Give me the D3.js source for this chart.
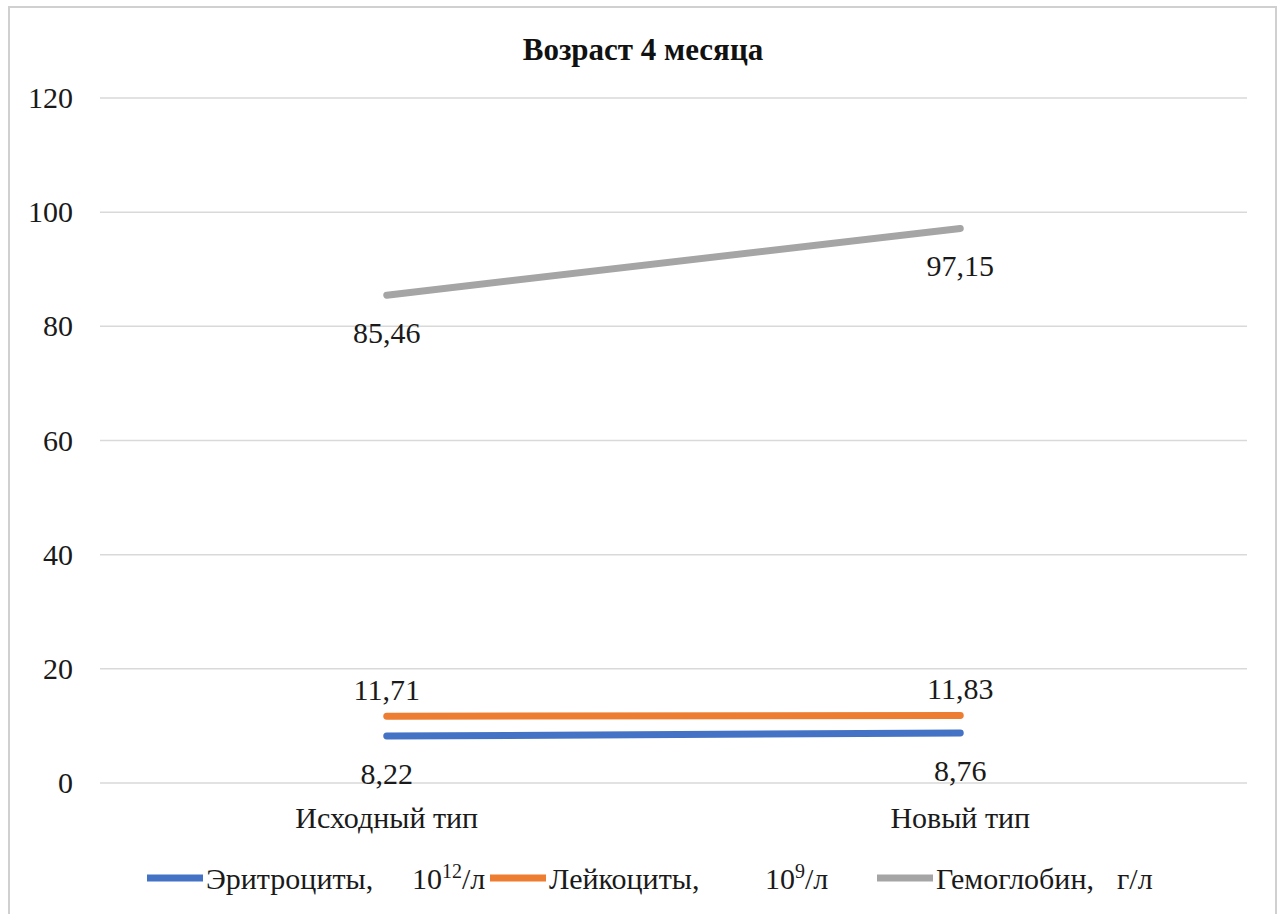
<!DOCTYPE html>
<html>
<head>
<meta charset="utf-8">
<script src="https://cdn.jsdelivr.net/npm/d3@7"></script>
<style>
  body { margin: 0; background: #fff; }
  .serif { font-family: 'Liberation Serif', 'Times New Roman', Tinos, serif; }
</style>
</head>
<body>
<svg id="chart" width="1283" height="914"></svg>
<script>
// chart data
const categories = ["Исходный тип", "Новый тип"];
const seriesNames = ["Эритроциты,", "Лейкоциты,", "Гемоглобин,"];
const unitBase = ["10", "10", ""];
const unitSup = ["12", "9", ""];
const unitTail = ["/л", "/л", "г/л"];
const erythrocytes = [8.22, 8.76];
const leukocytes = [11.71, 11.83];
const hemoglobin = [85.46, 97.15];
const yTicks = [0, 20, 40, 60, 80, 100, 120];

const colors = ["#4472C4", "#ED7D31", "#A5A5A5"];
const labelAbove = [false, true, false];
const series = [erythrocytes, leukocytes, hemoglobin];
const TXT = "#1a1a1a";

const svg = d3.select("#chart");

// outer frame
svg.append("rect")
  .attr("x", 9).attr("y", 7)
  .attr("width", 1267).attr("height", 920)
  .attr("fill", "#fff")
  .attr("stroke", "#d0d0d0")
  .attr("stroke-width", 2);

const margin = { top: 98, left: 100, right: 36, bottom: 131 };
const width = 1283 - margin.left - margin.right;
const height = 914 - margin.top - margin.bottom;

const g = svg.append("g").attr("transform", `translate(${ margin.left }, ${ margin.top })`);

const x = d3.scaleBand().domain(categories).range([0, width]);
const y = d3.scaleLinear().domain([0, 120]).range([height, 0]);
const cx = i => x(categories[i]) + x.bandwidth() / 2;

// grid
g.selectAll(".grid")
  .data(yTicks)
  .enter()
  .append("line")
  .attr("x1", 0).attr("x2", width)
  .attr("y1", d => y(d)).attr("y2", d => y(d))
  .attr("stroke", "#d9d9d9")
  .attr("stroke-width", 1.5);

// y axis labels
const yAxisG = g.append("g")
  .call(d3.axisLeft(y).tickValues(yTicks).tickSize(0).tickPadding(27));
yAxisG.attr("font-family", null).attr("font-size", null);
yAxisG.select(".domain").remove();
yAxisG.selectAll("text")
  .attr("class", "serif")
  .style("font-size", "30px")
  .attr("fill", TXT);

// x axis labels
const xAxisG = g.append("g")
  .attr("transform", `translate(0, ${ height })`)
  .call(d3.axisBottom(x).tickSize(0).tickPadding(24));
xAxisG.attr("font-family", null).attr("font-size", null);
xAxisG.select(".domain").remove();
xAxisG.selectAll("text")
  .attr("class", "serif")
  .style("font-size", "30px")
  .attr("fill", TXT);

const line = d3.line()
  .x((d, i) => cx(i))
  .y(d => y(d));

// lines
series.forEach((s, k) => {
  g.append("path")
    .datum(s)
    .attr("fill", "none")
    .attr("stroke", colors[k])
    .attr("stroke-width", 7)
    .attr("stroke-linecap", "round")
    .attr("d", line);
});

// data labels
series.forEach((s, k) => {
  g.selectAll(".lbl" + k)
    .data(s)
    .enter()
    .append("text")
    .attr("class", "serif")
    .attr("x", (d, i) => cx(i))
    .attr("y", d => labelAbove[k] ? y(d) - 16 : y(d) + 48)
    .attr("text-anchor", "middle")
    .style("font-size", "30px")
    .attr("fill", TXT)
    .text(d => d.toFixed(2).replace(".", ","));
});

// title
svg.append("text")
  .attr("class", "serif")
  .attr("x", 643).attr("y", 60)
  .attr("text-anchor", "middle")
  .style("font-size", "31px")
  .style("font-weight", "bold")
  .attr("fill", "#111")
  .text("Возраст 4 месяца");

// legend
const legendX = [147, 490, 877];
const unitOffset = [265, 275, 240];
const legendY = 878;
seriesNames.forEach((name, k) => {
  const item = svg.append("g").attr("transform", `translate(${ legendX[k] }, ${ legendY })`);
  item.append("line")
    .attr("x1", 0).attr("x2", 56)
    .attr("y1", 0).attr("y2", 0)
    .attr("stroke", colors[k])
    .attr("stroke-width", 7);
  const t = item.append("text")
    .attr("class", "serif")
    .attr("x", 59).attr("y", 11)
    .style("font-size", "30px")
    .attr("fill", TXT);
  t.append("tspan").text(name);
  t.append("tspan").attr("x", unitOffset[k]).text(unitBase[k] || unitTail[k]);
  if (unitSup[k]) {
    t.append("tspan").attr("dy", -11).style("font-size", "20px").text(unitSup[k]);
    t.append("tspan").attr("dy", 11).text(unitTail[k]);
  }
});
</script>
</body>
</html>
